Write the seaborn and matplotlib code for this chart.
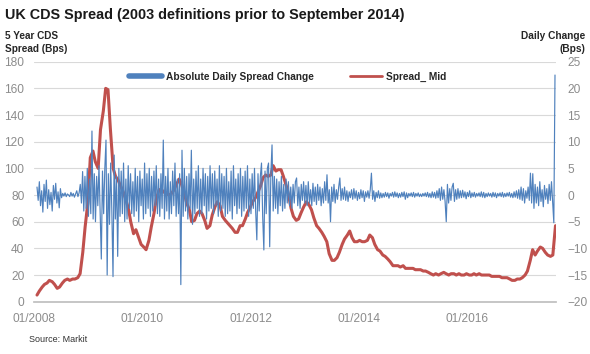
import pandas as pd
import matplotlib
matplotlib.use("Agg")
import matplotlib.pyplot as plt
import matplotlib.dates as mdates
from matplotlib.lines import Line2D
import seaborn as sns

# Spread_Mid, semi-monthly readings, Jan 2008 -> Jul 2016 (bps)
spread_mid = [
    5, 8, 11, 13, 14, 16, 15, 13, 10, 11,
    14, 16, 17, 16, 17, 17, 18, 21, 37, 56,
    75, 108, 113, 105, 100, 129, 143, 160, 159, 130,
    100, 94, 91, 87, 82, 77, 70, 60, 51, 54,
    48, 43, 41, 39, 46, 56, 66, 77, 84, 84,
    82, 81, 80, 81, 84, 88, 92, 88, 81, 74,
    69, 60, 61, 66, 68, 66, 61, 55, 57, 65,
    71, 75, 72, 64, 61, 59, 57, 55, 52, 52,
    57, 57, 62, 67, 71, 75, 78, 82, 87, 93,
    95, 94, 95, 102, 98, 99, 99, 94, 87, 80,
    70, 64, 61, 62, 67, 71, 75, 73, 69, 63,
    57, 55, 52, 49, 45, 36, 31, 31, 33, 37,
    43, 47, 50, 53, 48, 45, 45, 46, 45, 45,
    46, 50, 48, 43, 39, 38, 35, 34, 32, 30,
    27, 27, 27, 26, 27, 25, 25, 25, 25, 24,
    24, 24, 23, 23, 22, 21, 20, 21, 20, 21,
    22, 21, 20, 21, 21, 20, 21, 20, 20, 21,
    20, 20, 21, 20, 21, 20, 20, 20, 20, 19,
    19, 19, 19, 18, 18, 18, 17, 16, 16, 17,
    17, 18, 20, 23, 31, 39, 35, 38, 41, 40,
    37, 35, 34, 35, 57,
]

# Absolute daily spread change, weekly readings, Jan 2008 -> Jun 2016 (bps)
daily_change = [
    1.5, -1.0, 2.5, -2.0, 0.8, -3.2, 2.0, -1.2, 2.8, -2.5,
    1.0, -1.8, 0.5, -3.0, 1.8, -0.8, 2.2, -1.5, 0.6, -2.4,
    1.2, -0.5, 0.3, -0.2, 0.4, -0.3, 0.2, 0.0, -0.3, 0.5,
    -0.2, 0.3, -0.4, 0.2, 0.8, -0.3, 0.4, 2.0, -1.5, 4.4,
    -3.0, 3.5, -2.5, 5.0, -4.0, 3.0, -3.5, 12.0, -4.5, 4.0,
    -5.0, 3.5, -2.0, 5.5, -3.0, -12.0, 4.5, -3.5, 5.0, 10.3,
    -15.0, 4.0, -5.5, 6.0, -3.0, -15.3, 7.5, -4.5, 3.5, -11.5,
    5.0, -4.0, 4.5, -3.5, 6.0, -5.0, 3.0, -4.5, 5.5, -2.5,
    4.0, -3.5, 2.5, -4.0, 5.0, -3.0, 3.5, -5.0, 4.5, -2.0,
    3.0, -4.5, 6.0, -3.5, 4.0, -2.5, 5.0, -4.0, 3.5, -3.0,
    4.5, -2.0, 5.5, -3.5, 3.0, -4.0, 4.0, -2.5, 10.3, -4.5,
    3.5, -3.0, 5.0, -4.5, 2.5, -3.5, 4.5, -2.0, 6.0, -4.0,
    3.0, -3.5, 4.0, -16.8, 8.4, -4.0, 5.0, -3.0, 3.5, -4.5,
    4.0, -2.5, 8.4, -5.5, 3.0, -3.5, 4.5, -2.5, 5.5, -4.0,
    3.0, -3.5, 5.0, -2.0, 4.0, -4.5, 3.5, -3.0, 5.5, -2.5,
    4.0, -3.5, 4.5, -2.0, 3.0, -4.0, 5.5, -3.0, 4.0, -2.5,
    3.5, -4.0, 5.0, -3.5, 2.5, -3.0, 4.5, -4.5, 5.5, -2.0,
    3.0, -3.5, 4.0, -2.5, 5.0, -4.0, 3.5, -3.0, 4.5, -2.5,
    5.5, -4.0, 3.0, -3.5, 4.0, -2.5, 5.0, -3.0, -8.4, 4.0,
    -3.0, 3.5, 6.0, -4.0, -10.3, 4.5, -3.5, 5.0, 6.0, -9.7,
    4.0, 9.4, -3.0, 3.5, -2.5, 3.0, -3.5, 2.5, -2.0, 3.5,
    -3.0, 2.0, -2.5, 3.0, -1.5, 2.5, -2.0, 1.5, -2.5, 2.0,
    -1.5, 2.5, 3.2, -2.0, 1.5, -2.5, 2.0, -1.0, 2.5, -1.5,
    1.8, -2.0, 2.5, -1.5, 1.0, -2.0, 2.2, -1.2, 1.5, -1.8,
    2.0, -1.0, 1.5, -2.0, 1.2, -1.5, 2.5, -1.0, 3.8, -1.5,
    1.0, -5.0, 1.5, -1.2, 2.0, -1.5, 1.0, -0.8, 1.5, 3.2,
    -1.0, 1.2, -0.8, 1.5, -1.0, 0.8, -1.2, 0.6, -0.5, 1.0,
    -0.8, 1.2, -0.6, 0.8, -1.0, 0.5, -0.7, 1.0, -0.5, 0.8,
    -1.2, 0.6, -0.4, 0.8, -0.6, 1.0, 4.1, -0.8, 0.8, -1.2,
    0.5, -0.5, 0.8, -0.6, 0.4, -0.5, 0.3, -0.4, 0.5, -0.3,
    0.4, -0.6, 0.3, -0.2, 0.5, -0.4, 0.6, -0.3, 0.4, -0.5,
    0.3, -0.4, 0.5, -0.3, 0.6, -0.8, 0.4, -0.5, 0.3, -0.2,
    0.4, -0.3, 0.5, -0.4, 0.3, -0.2, 0.4, -0.3, 0.2, -0.3,
    0.3, -0.2, 0.4, -0.3, 0.5, -0.4, 0.3, -0.5, 0.6, -0.4,
    0.5, -0.6, 0.8, -0.5, 1.2, -1.0, 1.5, -0.8, 1.0, -1.2,
    -5.0, 2.0, -1.5, 1.2, -1.0, 1.5, 2.2, -1.2, 1.0, -0.8,
    1.2, -0.6, 0.8, -0.5, 0.9, -0.4, 0.6, -0.7, 0.5, -0.3,
    0.8, -0.5, 0.4, -0.3, 0.5, -0.4, 0.3, -0.2, 0.4, -0.3,
    0.6, -0.4, 0.5, -0.5, 0.3, -0.3, 0.4, -0.2, 0.3, -0.4,
    0.5, -0.3, 0.4, -0.5, 0.3, -0.2, 0.4, -0.3, 0.5, -0.4,
    0.3, -0.3, 0.4, -0.2, 0.5, -0.4, 0.3, -0.5, 0.6, -0.4,
    0.8, -0.6, 1.0, -0.8, 1.5, -1.0, 1.2, -1.5, 0.8, -0.6,
    1.5, -1.0, 4.1, -1.5, 4.0, -2.5, 2.0, -1.5, 1.5, -2.0,
    2.5, -1.2, 1.0, -2.2, 1.8, -0.8, 1.2, -1.6, 2.0, -1.0,
    2.5, -1.5, -5.2, 22.5,
]

tick_labels = ["01/2008", "01/2010", "01/2012", "01/2014", "01/2016"]
tick_years = [2008, 2010, 2012, 2014, 2016]

spread_df = pd.DataFrame({
    "date": pd.date_range("2008-01-01", periods=len(spread_mid), freq="SMS"),
    "spread": spread_mid,
})
change_df = pd.DataFrame({
    "date": pd.date_range("2008-01-01", periods=len(daily_change), freq="7D"),
    "change": daily_change,
})

RED = "#c0504d"
BLUE = "#4f81bd"
GREY = "#8c8c8c"

sns.set_theme(style="white")
plt.rcParams["font.family"] = ["Liberation Sans", "DejaVu Sans"]

fig = plt.figure(figsize=(5.9, 3.54), dpi=100)
ax = fig.add_axes([34 / 590, 52.3 / 354, 522 / 590, 240 / 354])
ax2 = ax.twinx()

sns.lineplot(data=spread_df, x="date", y="spread", ax=ax, color=RED, linewidth=2.2)
sns.lineplot(data=change_df, x="date", y="change", ax=ax2, color=BLUE, linewidth=0.85)

x0 = mdates.date2num(pd.Timestamp("2007-12-14"))
x1 = mdates.date2num(pd.Timestamp("2016-07-04"))
ax.set_xlim(x0, x1)
ax.set_ylim(0, 180)
ax2.set_ylim(-20, 25)
ax.set_yticks(range(0, 181, 20))
ax2.set_yticks(range(-20, 26, 5))

ax.grid(axis="y", color="#d9d9d9", linewidth=0.8)
ax.set_axisbelow(True)
for a in (ax, ax2):
    a.set_xlabel("")
    a.set_ylabel("")
    for s in a.spines.values():
        s.set_visible(False)
ax.spines["bottom"].set_visible(True)
ax.spines["bottom"].set_color("#bfbfbf")

# year marks on the axis, labels sit a little left of them as in the source
ax.set_xticks([mdates.date2num(pd.Timestamp(f"{y}-01-01")) for y in tick_years], [""] * 5)
label_frac = [0.0, 0.2075, 0.415, 0.6225, 0.83]
ax.set_xticks([x0 + f * (x1 - x0) for f in label_frac], tick_labels, minor=True)
ax.tick_params(axis="x", which="major", length=3, color="#bfbfbf", direction="out")
ax.tick_params(axis="x", which="minor", length=0, pad=8, labelsize=8.6, labelcolor=GREY)
ax.tick_params(axis="y", length=0, pad=7, labelsize=8.6, labelcolor=GREY)
ax2.tick_params(axis="y", length=0, pad=8, labelsize=8.6, labelcolor=GREY)

fig.text(5 / 590, 1 - 15 / 354, "UK CDS Spread (2003 definitions prior to September 2014)",
         fontsize=10.4, fontweight="bold", va="center", ha="left", color="#1a1a1a")
fig.text(5 / 590, 1 - 31 / 354, "5 Year CDS\nSpread (Bps)", fontsize=7.2, fontweight="bold",
         va="top", ha="left", linespacing=1.35, color="#262626")
fig.text(585 / 590, 1 - 31 / 354, "Daily Change\n(Bps)", fontsize=7.3, fontweight="bold",
         va="top", ha="right", multialignment="right", linespacing=1.35, color="#262626")
fig.text(29 / 590, 1 - 340 / 354, "Source: Markit", fontsize=6.5, va="center", color="#333333")

handles = [Line2D([], [], color=BLUE, linewidth=4), Line2D([], [], color=RED, linewidth=2)]
fig.legend(handles, ["Absolute Daily Spread Change", "Spread_ Mid"], loc="center",
           bbox_to_anchor=(288 / 590, 1 - 77 / 354), ncol=2, frameon=False,
           prop={"size": 7.3, "weight": "bold"}, handlelength=3.2, handletextpad=0.4,
           columnspacing=3.6)

fig.savefig("out.png", dpi=100)
